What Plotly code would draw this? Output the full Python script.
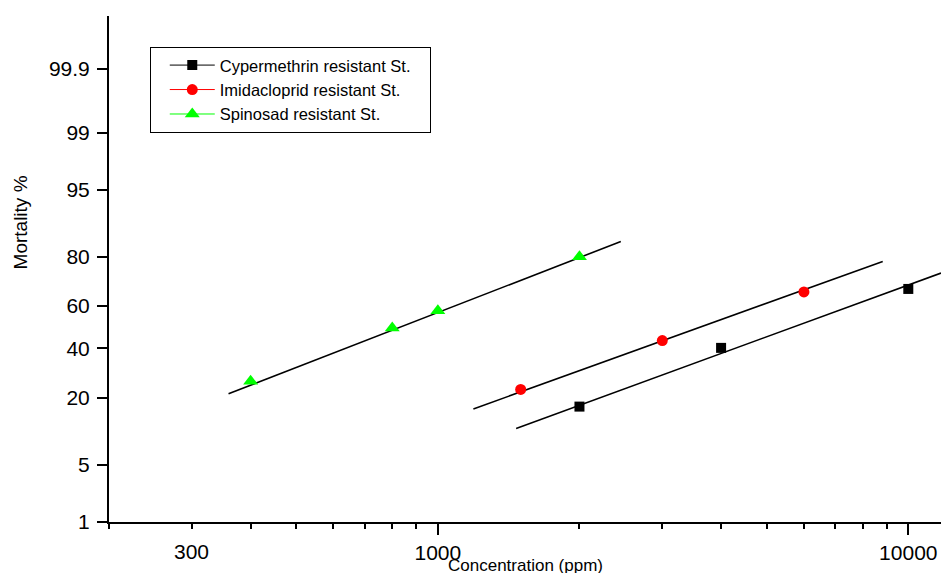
import math
from statistics import NormalDist
import plotly.graph_objects as go

# ---- data ----
series_names = ["Cypermethrin resistant St.", "Imidacloprid resistant St.", "Spinosad resistant St."]

cyp_conc = [2000, 4000, 10000]
cyp_mort = [17.1, 40.2, 67.6]
imi_conc = [1500, 3000, 6000]
imi_mort = [22.8, 43.6, 66.3]
spi_conc = [400, 800, 1000, 2000]
spi_mort = [25.9, 49.6, 57.8, 80.0]

# fitted probit regression lines (end points)
cyp_fit_conc = [1467, 11735]
cyp_fit_mort = [11.3, 74.1]
imi_fit_conc = [1190, 8823]
imi_fit_mort = [16.4, 78.4]
spi_fit_conc = [359, 2449]
spi_fit_mort = [21.3, 84.7]

y_tick_pct = [1, 5, 20, 40, 60, 80, 95, 99, 99.9]
y_tick_text = ["1", "5", "20", "40", "60", "80", "95", "99", "99.9"]
x_major_vals = [1000, 10000]
x_major_text = ["1000", "10000"]
x_extra_label = 300
x_minor_vals = [200, 300, 400, 500, 600, 700, 800, 900,
                2000, 3000, 4000, 5000, 6000, 7000, 8000, 9000]

colors = ["#000000", "#ff0000", "#00ff00"]
symbols = ["square", "circle", "triangle-up"]
sizes = [10, 11, 13]

nd = NormalDist()


def probit(pcts):
    return [nd.inv_cdf(p / 100.0) for p in pcts]


FONT = "Liberation Sans, Arial, sans-serif"

fig = go.Figure()

fits = [(cyp_fit_conc, cyp_fit_mort), (imi_fit_conc, imi_fit_mort), (spi_fit_conc, spi_fit_mort)]
for fc, fm in fits:
    fig.add_trace(go.Scatter(x=fc, y=probit(fm), mode="lines",
                             line=dict(color="black", width=1.6),
                             showlegend=False, hoverinfo="skip"))

pts = [(cyp_conc, cyp_mort), (imi_conc, imi_mort), (spi_conc, spi_mort)]
for i, (c, m) in enumerate(pts):
    fig.add_trace(go.Scatter(x=c, y=probit(m), mode="markers",
                             marker=dict(color=colors[i], symbol=symbols[i], size=sizes[i]),
                             showlegend=False, name=series_names[i]))

# legend entries (line + marker symbol)
for i in range(3):
    fig.add_trace(go.Scatter(x=[None], y=[None], mode="lines+markers",
                             name=series_names[i] + "\u00a0\u00a0\u00a0",
                             line=dict(color=colors[i], width=1),
                             marker=dict(color=colors[i], symbol=symbols[i], size=sizes[i])))

fig.update_xaxes(
    type="log",
    range=[math.log10(200), 4.0695],
    showline=True, linecolor="black", linewidth=2,
    showgrid=False, zeroline=False,
    ticks="outside", ticklen=11, tickwidth=2, tickcolor="black",
    tickmode="array", tickvals=x_major_vals, ticktext=x_major_text,
    tickfont=dict(family=FONT, size=21, color="black"),
    ticklabelstandoff=0,
    minor=dict(ticks="outside", ticklen=5, tickwidth=1.5, tickcolor="black",
               tickmode="array", tickvals=x_minor_vals, showgrid=False),
)
fig.update_yaxes(
    range=[-2.33, 3.72],
    showline=True, linecolor="black", linewidth=2,
    showgrid=False, zeroline=False,
    ticks="outside", ticklen=10, tickwidth=2, tickcolor="black",
    tickmode="array", tickvals=probit(y_tick_pct), ticktext=y_tick_text,
    tickfont=dict(family=FONT, size=21, color="black"),
    ticklabelstandoff=3,
)

fig.add_annotation(x=math.log10(x_extra_label), y=-0.059, xref="x", yref="paper",
                   text=str(x_extra_label), showarrow=False, yanchor="middle",
                   font=dict(family=FONT, size=21, color="black"))
fig.add_annotation(x=0.5, y=-0.085, xref="paper", yref="paper",
                   text="Concentration (ppm)", showarrow=False, yanchor="middle",
                   font=dict(family=FONT, size=17, color="black"))
fig.add_annotation(x=-0.107, y=0.592, xref="paper", yref="paper",
                   text="Mortality %", showarrow=False, textangle=-90,
                   xanchor="center", yanchor="middle",
                   font=dict(family=FONT, size=19, color="black"))

fig.update_layout(
    width=941, height=573,
    margin=dict(l=109, r=0, t=16, b=51),
    paper_bgcolor="white", plot_bgcolor="white",
    legend=dict(x=0.049, y=0.939, xanchor="left", yanchor="top",
                bgcolor="white", bordercolor="black", borderwidth=1,
                font=dict(family=FONT, size=16.5, color="black"),
                itemwidth=45, indentation=14,
                traceorder="normal"),
)

# remove the browser's default page margin so the figure fills the window exactly
fig.write_html("out.html",
               config={"displayModeBar": False},
               post_script="document.body.style.margin='0';document.body.style.overflow='hidden';")
